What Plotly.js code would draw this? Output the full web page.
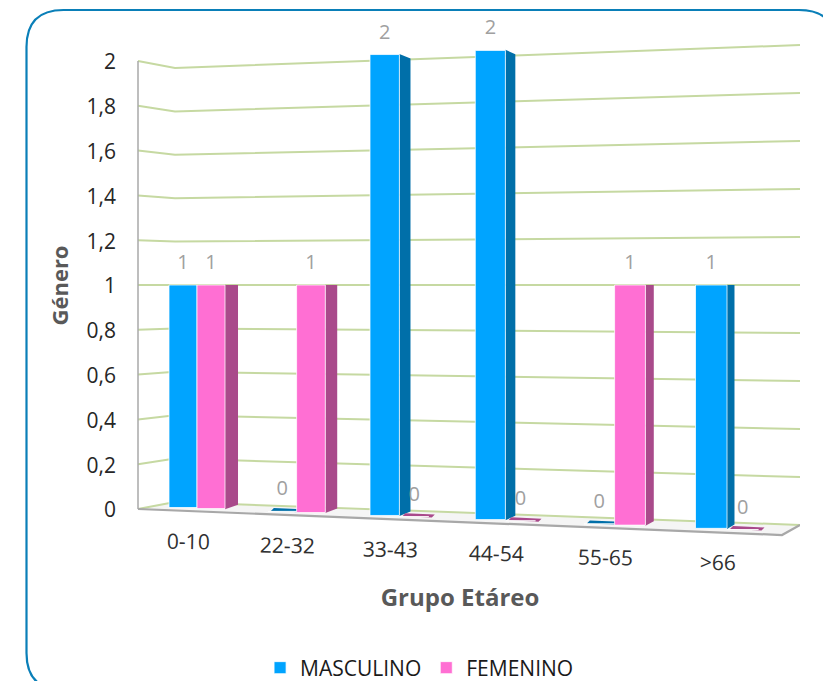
<!DOCTYPE html>
<html>
<head>
<meta charset="utf-8">
<script src="https://cdn.plot.ly/plotly-3.0.1.min.js"></script>
<style>html,body{margin:0;padding:0;background:#fff}#chart{width:823px;height:681px}</style>
</head>
<body>
<div id="chart"></div>
<script>
var categories = ['0-10', '22-32', '33-43', '44-54', '55-65', '>66'];
var masculino = [1, 0, 2, 2, 0, 1];
var femenino = [1, 1, 0, 0, 1, 0];
var tickValues = [0, 0.2, 0.4, 0.6, 0.8, 1, 1.2, 1.4, 1.6, 1.8, 2];
var tickLabels = ['0', '0,2', '0,4', '0,6', '0,8', '1', '1,2', '1,4', '1,6', '1,8', '2'];

var FONT = '"Open Sans", sans-serif';
var BLUE = '#00a4ff', PINK = '#ff6fd3', BLUE_SIDE = '#006fa9', PINK_SIDE = '#a94a8b';
var GRID = '#c6d9a2';
var W = 823, H = 681, L = 120, R = 800, B = 571;

/* perspective of the Excel-style 3D view: value + horizontal place -> axis coordinate */
function frontScale(x) { return 222 + 0.0394 * (x - 170); }
function frontY(x, v) { return 285 + (1 - v) * frontScale(x); }
function wallScale(x) { return x <= 175 ? 217 + (175 - x) * 7 / 37 : 217 + (x - 175) * 23 / 625; }
function wallY(x, v) { return 285 + (1 - v) * wallScale(x); }
function groupX(i) { return 197 + 98 * i + 1.6 * i * i; }
function barW(i) { return 28 + 0.7 * i; }
function depth(x) { return 13 - (x - 226) * 0.011; }

function poly(pts, fill, line, lw) {
  var d = pts.map(function (p, i) { return (i ? 'L' : 'M') + p[0].toFixed(2) + ',' + p[1].toFixed(2); }).join('') + (fill ? 'Z' : '');
  return { type: 'path', xref: 'x', yref: 'y', layer: 'below', path: d,
    fillcolor: fill || 'rgba(0,0,0,0)', line: { color: line || 'rgba(0,0,0,0)', width: lw || 0 } };
}

var shapes = [];
/* floor */
var leftX = 138, cornerX = 175, rightX = 800, frontRightX = 782;
function floorFront(x) { return 509 + 0.0404 * (x - leftX); }
shapes.push(poly([[leftX, wallY(leftX, 0)], [cornerX, wallY(cornerX, 0)], [rightX, wallY(rightX, 0)], [frontRightX, floorFront(frontRightX)]], '#f5f5f5'));
/* gridlines */
tickValues.forEach(function (v) {
  shapes.push(poly([[leftX, wallY(leftX, v)], [cornerX, wallY(cornerX, v)], [rightX, wallY(rightX, v)]], null, GRID, 2));
});
/* floor edge and vertical axis */
shapes.push(poly([[leftX, floorFront(leftX)], [frontRightX, floorFront(frontRightX)], [rightX, wallY(rightX, 0)]], null, '#a8a8a8', 2.2));
shapes.push(poly([[leftX, wallY(leftX, 2)], [leftX, wallY(leftX, 0)]], null, '#a8a8a8', 1.5));

var xM = [], wM = [], baseM = [], hM = [], xF = [], wF = [], baseF = [], hF = [];
var lblX = [], lblY = [], lblT = [];

function addBar(i, x0, x1, v, side, xs, ws, bases, hs) {
  var c = (x0 + x1) / 2;
  xs.push(c); ws.push(x1 - x0); bases.push(frontY(c, 0)); hs.push(frontY(c, v) - frontY(c, 0));
  if (v > 0) {
    var d = depth(x1), sk = (1 - v) * 4.5, ks = 4.5;
    shapes.push(poly([[x1, frontY(x1, v)], [x1 + d, frontY(x1, v) - sk], [x1 + d, frontY(x1, 0) - ks], [x1, frontY(x1, 0)]], side));
  } else {
    var a = x0 + 3, b = x1 + 6, t = 3;
    shapes.push(poly([[a, frontY(a, 0)], [b - 3, frontY(b, 0)], [b, frontY(b, 0) - t], [a + 3, frontY(a, 0) - t]], side));
  }
  lblX.push(c); lblY.push(frontY(c, v) - 21); lblT.push(String(v));
}

categories.forEach(function (cat, i) {
  var g = groupX(i), w = barW(i);
  addBar(i, g - w, g, masculino[i], BLUE_SIDE, xM, wM, baseM, hM);
});
categories.forEach(function (cat, i) {
  var g = groupX(i), w = barW(i);
  addBar(i, g, g + w, femenino[i], PINK_SIDE, xF, wF, baseF, hF);
});

/* rounded frame, in paper coordinates so that it is not clipped to the plot */
function px(x) { return ((x - L) / (R - L)).toFixed(4); }
function py(y) { return (1 - y / B).toFixed(4); }
var fx0 = 26.5, fx1 = 836, fy0 = 10, fy1 = 690, r = 37;
shapes.push({
  type: 'path', xref: 'paper', yref: 'paper', layer: 'above',
  path: 'M' + px(fx0 + r) + ',' + py(fy0) + 'L' + px(fx1 - r) + ',' + py(fy0) +
    'Q' + px(fx1) + ',' + py(fy0) + ' ' + px(fx1) + ',' + py(fy0 + r) +
    'L' + px(fx1) + ',' + py(fy1 - r) +
    'Q' + px(fx1) + ',' + py(fy1) + ' ' + px(fx1 - r) + ',' + py(fy1) +
    'L' + px(fx0 + r) + ',' + py(fy1) +
    'Q' + px(fx0) + ',' + py(fy1) + ' ' + px(fx0) + ',' + py(fy1 - r) +
    'L' + px(fx0) + ',' + py(fy0 + r) +
    'Q' + px(fx0) + ',' + py(fy0) + ' ' + px(fx0 + r) + ',' + py(fy0) + 'Z',
  line: { color: '#0a7fb8', width: 2.2 }, fillcolor: 'rgba(0,0,0,0)'
});

var edge = { color: 'rgba(255,255,255,0.75)', width: 1 };
var traces = [
  { type: 'bar', name: 'MASCULINO', x: xM, width: wM, base: baseM, y: hM, marker: { color: BLUE, line: edge }, hoverinfo: 'skip' },
  { type: 'bar', name: 'FEMENINO', x: xF, width: wF, base: baseF, y: hF, marker: { color: PINK, line: edge }, hoverinfo: 'skip' },
  { type: 'scatter', mode: 'text', x: lblX, y: lblY, text: lblT, textposition: 'middle center',
    textfont: { family: FONT, size: 20, color: '#a0a0a0' }, showlegend: false, hoverinfo: 'skip', cliponaxis: false }
];

var annotations = categories.map(function (cat, i) {
  var x = groupX(i) - 9;
  return { xref: 'x', yref: 'y', x: x, y: frontY(x, 0) + 33, text: cat, showarrow: false, textangle: 1,
    xanchor: 'center', yanchor: 'middle', font: { family: FONT, size: 21, color: '#303030' } };
});

var layout = {
  width: W, height: H,
  margin: { l: L, r: W - R, t: 0, b: H - B, pad: 0 },
  paper_bgcolor: '#fff', plot_bgcolor: 'rgba(0,0,0,0)',
  barmode: 'overlay',
  shapes: shapes,
  annotations: annotations,
  showlegend: true,
  legend: { orientation: 'h', xref: 'container', yref: 'container', x: 0.316, y: 1 - 668 / H, xanchor: 'left', yanchor: 'middle',
    font: { family: FONT, size: 21, color: '#1a1a1a' }, itemwidth: 30, bgcolor: 'rgba(0,0,0,0)' },
  xaxis: { range: [L, R], showgrid: false, zeroline: false, showline: false, ticks: '', showticklabels: false, fixedrange: true,
    title: { text: 'Grupo Etáreo', standoff: 18, font: { family: FONT, size: 24, color: '#595959', weight: 700 } } },
  yaxis: { range: [B, 0], showgrid: false, zeroline: false, showline: false, ticks: '', fixedrange: true,
    tickmode: 'array', tickvals: tickValues.map(function (v) { return wallY(leftX, v) + 1; }), ticktext: tickLabels,
    ticklabelstandoff: 3,
    tickfont: { family: FONT, size: 21, color: '#262626' },
    title: { text: 'Género', standoff: 11, font: { family: FONT, size: 22, color: '#595959', weight: 700 } } }
};

Plotly.newPlot('chart', traces, layout, { displayModeBar: false, responsive: false });
</script>
</body>
</html>
